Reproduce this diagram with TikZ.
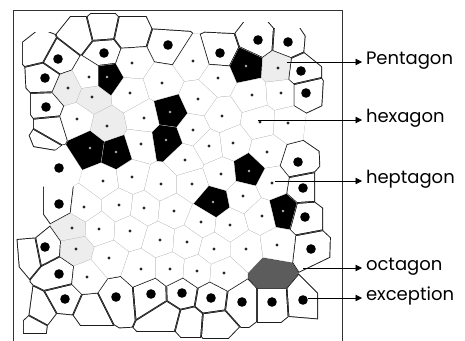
\documentclass[tikz,border=0pt]{standalone}
\usepackage{fontspec}
\setmainfont{Poppins}
\usetikzlibrary{arrows.meta,positioning}

\definecolor{cEdge}{HTML}{1C1C1C}
\definecolor{cFaint}{HTML}{B4B4B4}
\definecolor{cStip}{HTML}{EDEDED}
\definecolor{cOct}{HTML}{5C5C5C}

% per cell type: edge colour, face colour, edge width, dot radius, dot colour
\def\vcEb{cEdge}\def\vcFb{white}\def\vcDb{0.95}\def\vcRb{4.8pt}\def\vcCb{black}
\def\vcEn{cEdge}\def\vcFn{white}\def\vcDn{0.95}\def\vcRn{0pt}\def\vcCn{black}
\def\vcEo{white}\def\vcFo{white}\def\vcDo{0}\def\vcRo{4.8pt}\def\vcCo{black}
\def\vcEs{cFaint}\def\vcFs{white}\def\vcDs{0.25}\def\vcRs{1.7pt}\def\vcCs{black!85}
\def\vcEt{cFaint}\def\vcFt{cStip}\def\vcDt{0.25}\def\vcRt{1.7pt}\def\vcCt{black!85}
\def\vcEk{gray!70}\def\vcFk{black}\def\vcDk{0.3}\def\vcRk{1.3pt}\def\vcCk{gray!60}
\def\vcEg{black!75}\def\vcFg{cOct}\def\vcDg{0.5}\def\vcRg{0pt}\def\vcCg{black}
\def\vcghost{z}

\tikzset{
  lab/.style   = {anchor=mid west, inner xsep=4pt, inner ysep=0pt, outer sep=0pt,
                  font=\fontsize{18}{21}\selectfont},
  fl/.style    = {-{Triangle[length=6.5pt,width=6.5pt]}, draw=black, line width=0.8pt},
  frame/.style = {draw=black!80, line width=1pt},
}

\def\cellseeds{%
 38/48/n,78/33/n,102/27/n,130/33/n,48/128/n,40/142/n,30/250/n,40/313/n,33/326/n,
 90/310/n,166/318/n,189/324/n,215/326/n,
 58/59/b,45/78/b,46/107/b,104/53/b,168/45/b,220/53/b,258/40/b,288/42/b,
 301/71/b,306/93/b,298/162/b,303/188/b,305/217/b,311/249/b,303/300/b,
 272/302/b,242/302/b,211/298/b,182/293/b,151/294/b,116/297/b,65/299/b,
 59/274/b,45/247/b,59/204/b,59/168/o,
 107/77/k,246/66/k,170/112/k,166/140/k,90/148/k,116/152/k,249/171/k,
 213/202/k,283/211/k,272/274/g,
 68/88/t,92/97/t,107/126/t,278/68/t,72/228/t,76/249/t,
 132/63/s,89/77/s,130/93/s,77/119/s,144/118/s,141/144/s,162/83/s,
 193/61/s,218/78/s,198/99/s,252/95/s,281/93/s,222/116/s,260/122/s,
 288/123/s,193/130/s,209/146/s,233/143/s,267/152/s,103/181/s,132/177/s,
 161/184/s,84/207/s,119/205/s,144/208/s,99/229/s,130/231/s,160/240/s,
 109/258/s,141/269/s,87/277/s,221/174/s,192/184/s,243/196/s,174/211/s,
 201/222/s,230/225/s,262/216/s,187/242/s,214/249/s,246/249/s,277/245/s,
 170/269/s,197/271/s,224/273/s,272/183/s,185/160/s,
 6/48/z,38/16/z,52/12/z,20/25/z,78/0/z,102/0/z,130/0/z,170/14/z,200/6/z,
 222/12/z,258/4/z,288/14/z,318/22/z,322/45/z,343/71/z,340/95/z,322/127/z,
 342/160/z,327/188/z,341/217/z,350/250/z,325/278/z,333/300/z,300/336/z,
 272/342/z,242/352/z,215/350/z,189/350/z,166/345/z,120/360/z,90/340/z,
 62/330/z,33/340/z,13/326/z,18/310/z,0/295/z,0/275/z,5/252/z,28/226/z,
 27/204/z,20/185/z,20/165/z,38/154/z,25/148/z,18/128/z,14/107/z,5/80/z}

\newcommand\cellclip[1]{%
  \foreach \xj/\yj/\tj [count=\j] in \cellseeds {%
    \ifnum\i=\j\else
      \pgfmathsetmacro\vcdist{veclen(\xj-\xi,\yj-\yi)}%
      \ifdim\vcdist pt<90pt
        \pgfmathsetmacro\vcnx{(\xi-\xj)/\vcdist}%
        \pgfmathsetmacro\vcny{(\yi-\yj)/\vcdist}%
        \pgfmathsetmacro\vcmx{(\xi+\xj)/2+#1*\vcnx}%
        \pgfmathsetmacro\vcmy{(\yi+\yj)/2+#1*\vcny}%
        \clip ({\vcmx-600*\vcny},{\vcmy+600*\vcnx}) -- ++({600*\vcnx},{600*\vcny})
          -- ++({1200*\vcny},{-1200*\vcnx}) -- ++({-600*\vcnx},{-600*\vcny}) -- cycle;
      \fi
    \fi}}

\begin{document}
\begin{tikzpicture}[x=1pt,y=-1pt]
  \useasboundingbox (0,0) rectangle (465,340);

  \foreach \xi/\yi/\ti [count=\i] in \cellseeds {
    \ifx\ti\vcghost\else
      \edef\ecol{\csname vcE\ti\endcsname}
      \edef\fcol{\csname vcF\ti\endcsname}
      \edef\coff{\csname vcD\ti\endcsname}
      \begin{scope}
        \cellclip{0}
        \fill[\ecol] (0,0) rectangle (465,340);
        \cellclip{\coff}
        \fill[\fcol] (0,0) rectangle (465,340);
      \end{scope}
    \fi
  }

  \foreach \xi/\yi/\ti in \cellseeds {
    \ifx\ti\vcghost\else
      \edef\rr{\csname vcR\ti\endcsname}
      \edef\dcol{\csname vcC\ti\endcsname}
      \ifdim\rr>0pt \fill[\dcol] (\xi,\yi) circle (\rr); \fi
    \fi
  }

  \draw[frame] (13,350) -- (13,10) -- (342,10) -- (342,350);

  \coordinate (pentS) at (287,62);
  \coordinate (hexaS) at (258,120);
  \coordinate (heptS) at (275,181);
  \coordinate (octaS) at (303,268);
  \coordinate (excS)  at (308,298);

  \node[lab] (pent) at (362,62)  {Pentagon};
  \node[lab] (hexa) at (362,120) {hexagon};
  \node[lab] (hept) at (362,181) {heptagon};
  \node[lab] (octa) at (362,268) {octagon};
  \node[lab] (exc)  at (362,298) {exception};

  \draw[fl] (pentS) -- (pent.mid west);
  \draw[fl] (hexaS) -- (hexa.mid west);
  \draw[fl] (heptS) -- (hept.mid west);
  \draw[fl] (octaS) -- (octa.mid west);
  \draw[fl] (excS)  -- (exc.mid west);
\end{tikzpicture}
\end{document}
